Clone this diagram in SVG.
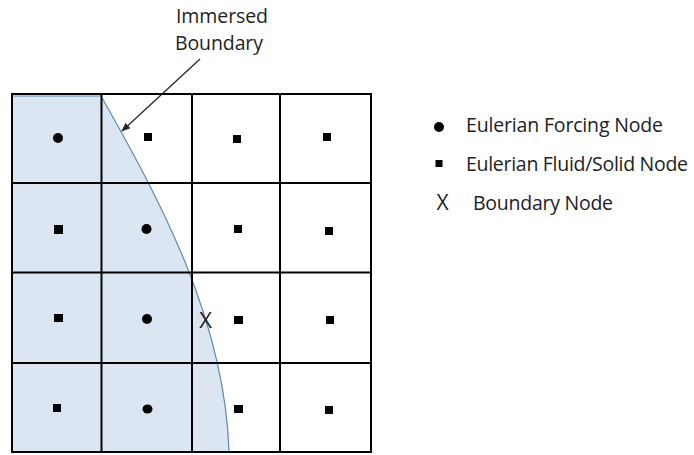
<svg xmlns="http://www.w3.org/2000/svg" width="694" height="455" viewBox="0 0 694 455">
<style>
.grid{stroke:#000;stroke-width:2;fill:none}
.t{font-family:"Open Sans","Liberation Sans",sans-serif;fill:#1e1e1e}
.dot{fill:#000}
.sq{fill:#000}
</style>
<defs>
<marker id="ah" viewBox="0 0 10 10" refX="9" refY="5" markerWidth="9" markerHeight="9" markerUnits="userSpaceOnUse" orient="auto">
<path d="M0,1 L10,5 L0,9 Z" fill="#262626"/>
</marker>
</defs>
<rect width="694" height="455" fill="#fff"/>
<g id="body">
<path d="M12,96 L101,96 C160,200 225,320 229,452 L12,452 Z" fill="#dce6f2"/>
<path d="M12,96 L101,96 C160,200 225,320 229,452" fill="none" stroke="#5b8bb8" stroke-width="1.2"/>
</g>
<g id="grid" class="grid">
<rect x="12" y="94" width="359" height="358"/>
<line x1="101.5" y1="94" x2="101.5" y2="452"/>
<line x1="192" y1="94" x2="192" y2="452"/>
<line x1="280" y1="94" x2="280" y2="452"/>
<line x1="12" y1="183" x2="371" y2="183"/>
<line x1="12" y1="272.5" x2="371" y2="272.5"/>
<line x1="12" y1="363" x2="371" y2="363"/>
</g>
<g id="nodes">
<circle class="dot" cx="58" cy="138" r="5"/>
<rect class="sq" x="144" y="133" width="8" height="8"/>
<rect class="sq" x="233" y="135" width="8" height="8"/>
<rect class="sq" x="323" y="133" width="8" height="8"/>
<rect class="sq" x="54" y="225" width="9" height="9"/>
<circle class="dot" cx="146.5" cy="229" r="5"/>
<rect class="sq" x="234" y="225" width="8" height="8"/>
<rect class="sq" x="325" y="227" width="8" height="8"/>
<rect class="sq" x="54" y="314" width="9" height="8"/>
<circle class="dot" cx="147" cy="319" r="5"/>
<text class="t" x="205.5" y="328" font-size="22" text-anchor="middle">X</text>
<rect class="sq" x="234" y="316" width="9" height="8"/>
<rect class="sq" x="326" y="316" width="8" height="8"/>
<rect class="sq" x="53" y="404" width="8" height="8"/>
<ellipse class="dot" cx="147.5" cy="409" rx="5" ry="4.5"/>
<rect class="sq" x="234" y="405" width="9" height="8"/>
<rect class="sq" x="325" y="406" width="8" height="8"/>
</g>
<g id="label">
<text class="t" x="222" y="23" font-size="19.5" text-anchor="middle" textLength="92">Immersed</text>
<text class="t" x="219" y="50" font-size="19.5" text-anchor="middle" textLength="88">Boundary</text>
</g>
<g id="connectors">
<line x1="200" y1="59" x2="122" y2="131" stroke="#262626" stroke-width="1.3" marker-end="url(#ah)"/>
</g>
<g id="legend">
<circle class="dot" cx="439" cy="127" r="5"/>
<text class="t" x="466" y="132" font-size="19.5" textLength="197">Eulerian Forcing Node</text>
<rect class="sq" x="435.5" y="160" width="7" height="7"/>
<text class="t" x="466" y="171" font-size="19.5" textLength="222">Eulerian Fluid/Solid Node</text>
<text class="t" x="442.5" y="210" font-size="21" text-anchor="middle">X</text>
<text class="t" x="473" y="210" font-size="19.5" textLength="140">Boundary Node</text>
</g>
</svg>
